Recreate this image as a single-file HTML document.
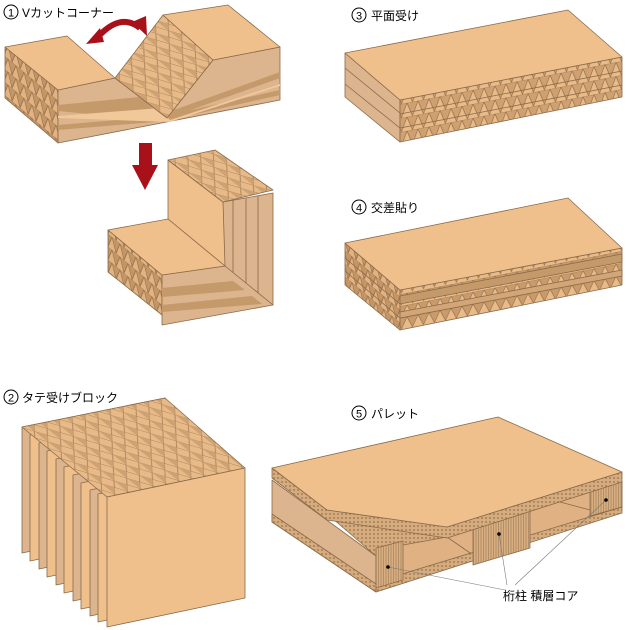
<!DOCTYPE html>
<html><head><meta charset="utf-8"><style>
html,body{margin:0;padding:0;background:#fff;}
svg{display:block;}
text{font-family:"Liberation Sans","Noto Sans CJK JP",sans-serif;fill:#000;}
</style></head><body>
<svg width="626" height="630" viewBox="0 0 626 630" xmlns="http://www.w3.org/2000/svg">
<defs>
<pattern id="zz" width="11" height="14" patternUnits="userSpaceOnUse" patternTransform="skewY(-11)">
<rect width="11" height="14" fill="#e8bb88"/>
<path d="M0,0 L5.5,14 L11,0 Z" fill="#cfa070" stroke="#8a6a4a" stroke-width="0.6"/>
</pattern>
<pattern id="zz2" width="11" height="12" patternUnits="userSpaceOnUse" patternTransform="skewY(-11)">
<rect width="11" height="12" fill="#e8bb88"/>
<path d="M0,0 L5.5,11 L11,0 Z" fill="#c99a6a" stroke="#8a6a4a" stroke-width="0.6"/>
</pattern>
<pattern id="zl" width="8" height="13" patternUnits="userSpaceOnUse" patternTransform="skewY(40)">
<rect width="8" height="13" fill="#e2b280"/>
<path d="M0,0 L4,13 L8,0 Z" fill="#c49565" stroke="#8a6a4a" stroke-width="0.6"/>
</pattern>
<pattern id="grid" width="13" height="13" patternUnits="userSpaceOnUse" patternTransform="rotate(-12) skewX(40)">
<rect width="13" height="13" fill="#e8ba88"/>
<path d="M0,0 L13,13 M0,13 L13,0" stroke="#9a7650" stroke-width="0.5"/>
<path d="M0,0 L6.5,6.5 L0,13Z" fill="#cfa274"/>
</pattern>
<pattern id="dots" width="4" height="4" patternUnits="userSpaceOnUse">
<rect width="4" height="4" fill="#d6ac7e"/>
<circle cx="2" cy="2" r="1" fill="#a58058"/>
</pattern>
<pattern id="vs" width="5" height="10" patternUnits="userSpaceOnUse">
<rect width="5" height="10" fill="#d8ae80"/>
<path d="M1,0 V10 M3.5,0 V10" stroke="#9a7a55" stroke-width="0.6"/>
</pattern>
</defs>

<g font-size="12">
<circle cx="11" cy="12" r="7" fill="none" stroke="#000" stroke-width="1"/><text x="11" y="16.5" font-size="11" text-anchor="middle">1</text>
<text x="22" y="17">Vカットコーナー</text>
<circle cx="359" cy="15" r="7" fill="none" stroke="#000"/><text x="359" y="19.5" font-size="11" text-anchor="middle">3</text>
<text x="371" y="20">平面受け</text>
<circle cx="359" cy="207" r="7" fill="none" stroke="#000"/><text x="359" y="211.5" font-size="11" text-anchor="middle">4</text>
<text x="371" y="212">交差貼り</text>
<circle cx="11" cy="397" r="7" fill="none" stroke="#000"/><text x="11" y="401.5" font-size="11" text-anchor="middle">2</text>
<text x="22" y="402">タテ受けブロック</text>
<circle cx="359" cy="413" r="7" fill="none" stroke="#000"/><text x="359" y="417.5" font-size="11" text-anchor="middle">5</text>
<text x="371" y="418">パレット</text>
<text x="503" y="600">桁柱 積層コア</text>
</g>

<g stroke="#8a6a4a" stroke-width="0.8" stroke-linejoin="round">
<polygon points="5,47 58,90 58,143 5,98" fill="url(#zl)"/>
<polygon points="58,90 115,78 167,118 213,60 280,47 280,100 58,143" fill="#dcb48e"/>
<g fill="#c49a6a" stroke="none">
<polygon points="58,105 140,97 160,115 280,72 280,78 160,121 58,111"/>
<polygon points="58,125 165,116 280,90 280,95 165,121 58,130"/>
</g>
<g fill="#f0c89a" stroke="none">
<polygon points="58,116 160,108 170,120 280,84 280,86 170,122 58,118"/>
</g>
<polygon points="115,78 163,15 213,60 167,118" fill="url(#grid)"/>
<polygon points="5,47 67,36 115,78 58,90" fill="#f0c08c"/>
<polygon points="163,15 228,5 280,47 213,60" fill="#f0c08c"/>
<polygon points="108,230 162,275 162,315 108,272" fill="url(#zl)"/>
<polygon points="223,202 273,193 273,305 223,268" fill="#dcb48e"/>
<path d="M233,200 V275 M246,198 V285 M258,196 V295" fill="none"/>
<polygon points="162,275 225,266 273,305 162,325" fill="#dcb48e"/>
<g fill="#c49a6a" stroke="none">
<polygon points="162,288 233,281 245,290 162,297"/>
<polygon points="162,305 252,296 262,304 162,312"/>
</g>
<polygon points="168,160 223,202 225,266 168,219" fill="#f0c08c"/>
<polygon points="168,160 215,150 273,190 223,202" fill="url(#grid)"/>
<polygon points="108,230 168,219 225,266 162,275" fill="#f0c08c"/>
</g>
<path d="M97,38 Q120,12 140,28" fill="none" stroke="#a8101a" stroke-width="6"/>
<polygon points="86,44 100,28 104,42" fill="#a8101a"/>
<polygon points="147,36 132,22 146,16" fill="#a8101a"/>
<polygon points="139,143 152,143 152,165 158,165 145,190 132,165 139,165" fill="#a8101a"/>

<g stroke="#8a6a4a" stroke-width="0.8" stroke-linejoin="round">
<polygon points="345,53 400,100 400,142 345,97" fill="#dcb48e"/>
<path d="M345,68 L400,113 M345,84 L400,128" fill="none"/>
<polygon points="400,100 622,57 622,97 400,142" fill="url(#zz)"/>
<path d="M400,114 L622,71 M400,128 L622,85" fill="none"/>
<polygon points="345,53 568,10 622,57 400,100" fill="#f0c08c"/>
<polygon points="345,243 400,290 400,330 345,285" fill="url(#zl)"/>
<polygon points="400,290 622,248 622,285 400,330" fill="url(#zz2)"/>
<polygon points="400,296 622,254 622,262 400,304" fill="#c49a6a"/>
<polygon points="400,312 622,270 622,276 400,318" fill="#d2a676"/>
<path d="M345,258 L400,304 M345,271 L400,318" fill="none"/>
<polygon points="345,243 568,198 622,248 400,290" fill="#f0c08c"/>

<g fill="#f0c08c">
<polygon points="22,427 165,398 165,524 22,553" fill="#dcb48e"/>
<polygon points="30,435 173,406 173,532 30,561"/>
<polygon points="39,443 182,414 182,540 39,569" fill="#dcb48e"/>
<polygon points="47,451 190,422 190,548 47,577"/>
<polygon points="56,459 199,430 199,556 56,585" fill="#dcb48e"/>
<polygon points="64,467 207,438 207,564 64,593"/>
<polygon points="73,475 216,446 216,572 73,601" fill="#dcb48e"/>
<polygon points="81,483 224,454 224,580 81,609"/>
<polygon points="90,490 233,461 233,587 90,616" fill="#dcb48e"/>
<polygon points="98,494 240,465 240,592 98,622"/>
</g>
<polygon points="22,427 165,398 245,468 107,497" fill="url(#grid)"/>
<polygon points="107,497 245,468 245,598 107,627" fill="#f0c08c"/>

<!-- FIG5 -->
<polygon points="345,505 447,537 622,482 622,508 376,584 376,556" fill="#e0b283"/>
<path d="M447,537 L473,555 M560,502 L590,510" fill="none"/>
<polygon points="272,480 376,556 376,592 272,522" fill="#dcb48e"/>
<polygon points="272,514 376,584 376,592 272,522" fill="url(#dots)"/>
<polygon points="376,582 622,507 622,513 376,592" fill="url(#dots)"/>
<polygon points="325,512 447,537 403,545 376,556" fill="url(#dots)"/>
<polygon points="376,548 403,541 403,580 376,588" fill="url(#vs)"/>
<polygon points="473,523 530,506 530,548 473,565" fill="url(#vs)"/>
<polygon points="590,490 622,481 622,507 590,516" fill="url(#vs)"/>
<polygon points="272,468 327,510 447,527 622,472 622,482 447,538 327,520 272,478" fill="url(#dots)"/>
<polygon points="272,468 498,417 622,472 447,527 327,510" fill="#f0c08c"/>
</g>
<g stroke="#777" stroke-width="0.6" fill="none">
<path d="M388,567 L505,590 M499,534 L507,585 M606,500 L515,585"/>
</g>
<circle cx="388" cy="567" r="1.8"/><circle cx="499" cy="534" r="1.8"/><circle cx="606" cy="500" r="1.8"/>
</svg>
</body></html>
